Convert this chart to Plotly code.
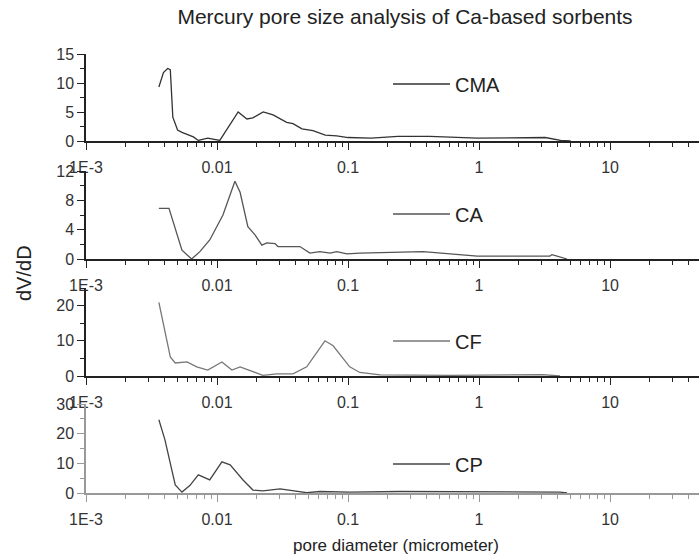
import numpy as np
import plotly.graph_objects as go

# pore diameter (micrometer) and dV/dD
cma_x = [0.0036, 0.0039, 0.0042, 0.0044, 0.0046, 0.0050, 0.0054, 0.0066, 0.0072, 0.0085, 0.0105,
         0.0145, 0.0169, 0.0188, 0.0225, 0.0268, 0.034, 0.038, 0.0445, 0.054, 0.067, 0.082, 0.10,
         0.15, 0.24, 0.42, 0.97, 1.7, 2.8, 3.2, 4.2, 5.0]
cma_y = [9.3, 11.8, 12.5, 12.3, 4.1, 1.9, 1.5, 0.7, 0.1, 0.5, 0.1,
         5.0, 3.8, 4.0, 5.0, 4.5, 3.2, 3.0, 2.1, 1.8, 1.0, 0.9, 0.6,
         0.5, 0.8, 0.8, 0.5, 0.5, 0.5, 0.6, 0.1, 0.0]

ca_x = [0.0036, 0.0043, 0.0054, 0.0062, 0.0064, 0.0074, 0.0088, 0.0111, 0.0137, 0.0150, 0.0172,
        0.0195, 0.0220, 0.0240, 0.0277, 0.0292, 0.0429, 0.0512, 0.061, 0.073, 0.082, 0.098,
        0.123, 0.374, 0.97, 3.48, 3.6, 4.7]
ca_y = [6.9, 6.9, 1.2, 0.3, 0.0, 1.0, 2.6, 6.0, 10.6, 9.1, 4.4,
        3.3, 1.9, 2.2, 2.1, 1.7, 1.7, 0.8, 1.0, 0.8, 1.0, 0.7,
        0.8, 1.0, 0.4, 0.4, 0.6, 0.0]

cf_x = [0.0036, 0.0044, 0.0048, 0.0059, 0.0070, 0.0085, 0.0109, 0.0130, 0.0150, 0.0188, 0.0224,
        0.0286, 0.038, 0.0484, 0.058, 0.0667, 0.077, 0.087, 0.103, 0.123, 0.176, 0.60, 3.06, 4.15]
cf_y = [20.9, 5.4, 3.7, 4.0, 2.6, 1.7, 4.0, 1.7, 2.6, 1.2, 0.2,
        0.6, 0.6, 2.6, 6.9, 10.0, 8.6, 6.0, 2.6, 1.0, 0.3, 0.2, 0.4, 0.0]

cp_x = [0.0036, 0.0040, 0.0048, 0.0054, 0.0062, 0.0072, 0.0088, 0.0109, 0.0126, 0.0158, 0.0188,
        0.0224, 0.0303, 0.038, 0.0484, 0.061, 0.103, 0.249, 1.0, 4.15, 4.7]
cp_y = [24.7, 18.0, 2.7, 0.3, 2.5, 6.1, 4.4, 10.5, 9.5, 4.4, 1.0,
        0.7, 1.4, 0.7, 0.1, 0.5, 0.3, 0.5, 0.3, 0.3, 0.0]

names = ["CMA", "CA", "CF", "CP"]
xs = [cma_x, ca_x, cf_x, cp_x]
ys = [cma_y, ca_y, cf_y, cp_y]
colors = ["#333333", "#555555", "#777777", "#444444"]
yranges = [[0, 15], [0, 12], [0, 25], [0, 30]]
ydticks = [5, 4, 10, 10]

tick_vals = [0.001, 0.01, 0.1, 1, 10]
tick_text = ["1E-3", "0.01", "0.1", "1", "10"]
minor_vals = [k * 10.0 ** e for e in range(-3, 2) for k in range(2, 10)]

W, H = 699, 557
L, T, B = 86, 54, 64
plot_h = H - T - B
# panel tops / bottoms in pixels
panels = [(54, 141), (171, 259), (288, 376), (404, 493)]
legend_y = [84, 214, 341, 464]

font = "Liberation Sans, Arial, sans-serif"

fig = go.Figure()
layout = dict(
    width=W, height=H,
    margin=dict(l=L, r=0, t=T, b=B),
    paper_bgcolor="white", plot_bgcolor="white",
    font=dict(family=font, size=16, color="#333333"),
    showlegend=True,
)

for i in range(4):
    n = "" if i == 0 else str(i + 1)
    top, bot = panels[i]
    dom = [(H - B - bot) / plot_h, (H - B - top) / plot_h]
    axcol = "#999999" if i == 3 else "#222222"
    fig.add_trace(go.Scatter(x=xs[i], y=ys[i], mode="lines", name=names[i],
                             line=dict(color=colors[i], width=1.3),
                             xaxis="x" + n, yaxis="y" + n,
                             legend="legend" + n))
    layout["xaxis" + n] = dict(
        type="log", range=[-3, 1.679], domain=[0, 1], anchor="y" + n,
        showgrid=False, zeroline=False, showline=True, linecolor=axcol, linewidth=1.5,
        ticks="outside", ticklen=7, tickwidth=1.3, tickcolor=axcol,
        tickvals=tick_vals, ticktext=tick_text, ticklabelstandoff=4,
        tickfont=dict(size=16, color="#333333"),
        minor=dict(tickvals=minor_vals, ticks="outside", ticklen=4, tickwidth=1.2,
                   tickcolor=axcol, showgrid=False),
    )
    layout["yaxis" + n] = dict(
        range=yranges[i], domain=dom, anchor="x" + n,
        showgrid=False, zeroline=False, showline=True, linecolor=axcol, linewidth=1.5,
        ticks="outside", ticklen=7, tickwidth=1.3, tickcolor=axcol,
        dtick=ydticks[i], tick0=0,
        tickfont=dict(size=16, color="#333333"),
        minor=dict(dtick=ydticks[i] / 2, tick0=0, ticks="outside", ticklen=4,
                   tickwidth=1.2, tickcolor=axcol, showgrid=False),
    )
    layout["legend" + n] = dict(
        x=(388 - L) / (W - L), xanchor="left",
        y=(H - B - legend_y[i]) / plot_h, yanchor="middle",
        bgcolor="rgba(0,0,0,0)", borderwidth=0,
        font=dict(size=20, color="#222222", family=font),
        itemwidth=57,
    )

fig.update_layout(**layout)

fig.update_layout(
    title=dict(text="Mercury pore size analysis of Ca-based sorbents",
               x=405 / W, xref="container", xanchor="center",
               y=1 - 17 / H, yref="container", yanchor="middle",
               font=dict(size=21, color="#222222", family=font)),
)
fig.add_annotation(text="dV/dD", textangle=-90, showarrow=False,
                   xref="paper", yref="paper", x=(24 - L) / (W - L), y=(H - B - 273) / plot_h,
                   xanchor="center", yanchor="middle",
                   font=dict(size=20, color="#222222", family=font))
fig.add_annotation(text="pore diameter (micrometer)", showarrow=False,
                   xref="paper", yref="paper", x=(396 - L) / (W - L), y=(H - B - 545) / plot_h,
                   xanchor="center", yanchor="middle",
                   font=dict(size=17, color="#222222", family=font))

# the page's default body margin would shift the figure
fig.write_html("out.html", config={"displayModeBar": False},
               post_script="document.body.style.margin='0px';")
